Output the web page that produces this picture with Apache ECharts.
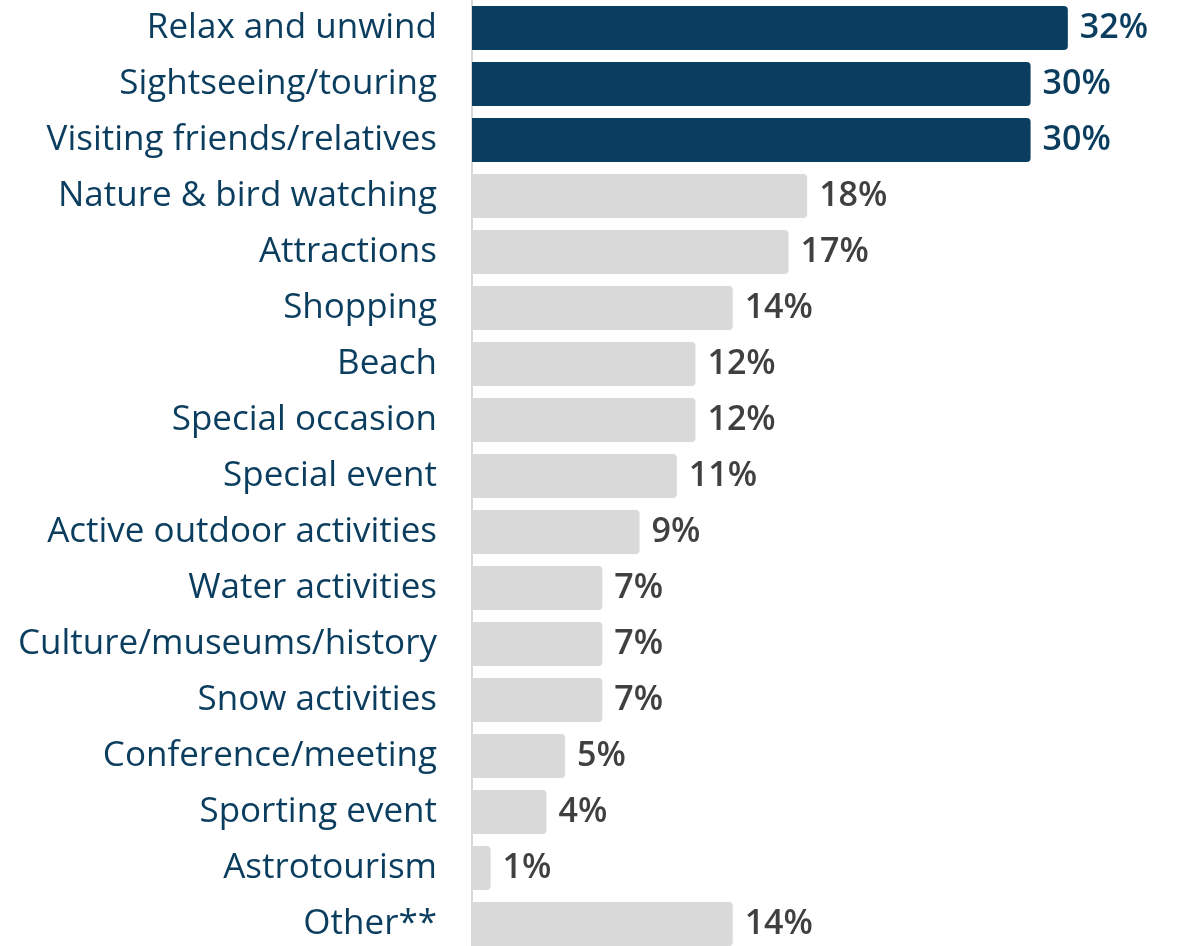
<!DOCTYPE html>
<html>
<head>
<meta charset="utf-8">
<script src="https://cdn.jsdelivr.net/npm/echarts@6/dist/echarts.min.js"></script>
<style>
  html, body { margin: 0; padding: 0; background: #ffffff; }
  #chart { width: 1177px; height: 946px; }
</style>
</head>
<body>
<div id="chart"></div>
<script>
// Trip activities, share of respondents (%)
const categories = [
  'Relax and unwind', 'Sightseeing/touring', 'Visiting friends/relatives',
  'Nature & bird watching', 'Attractions', 'Shopping', 'Beach',
  'Special occasion', 'Special event', 'Active outdoor activities',
  'Water activities', 'Culture/museums/history', 'Snow activities',
  'Conference/meeting', 'Sporting event', 'Astrotourism', 'Other**'
];
const values = [32, 30, 30, 18, 17, 14, 12, 12, 11, 9, 7, 7, 7, 5, 4, 1, 14];
// The leading three activities are highlighted
const highlightCount = 3;

const DARK = '#0b3d5f';
const GRAY = '#d9d9d9';
const LABEL_GRAY = '#404040';
const FONT = '"Open Sans", "Noto Sans", sans-serif';

const chart = echarts.init(document.getElementById('chart'), null, { renderer: 'canvas' });

const barData = values.map((v, i) => {
  const hi = i < highlightCount;
  return {
    value: v,
    itemStyle: { color: hi ? DARK : GRAY, borderRadius: [0, 4, 4, 0] },
    label: { color: hi ? DARK : LABEL_GRAY }
  };
});

chart.setOption({
  animation: false,
  backgroundColor: '#ffffff',
  grid: { left: 472, top: 0, width: 651.7, height: 952, outerBoundsMode: 'none', containLabel: false },
  xAxis: {
    type: 'value', min: 0, max: 35,
    show: false
  },
  yAxis: {
    type: 'category',
    inverse: true,
    data: categories,
    axisLine: { show: true, lineStyle: { color: GRAY, width: 2 } },
    axisTick: { show: false },
    axisLabel: {
      margin: 35,
      color: DARK,
      fontFamily: FONT,
      fontSize: 35
    }
  },
  series: [{
    type: 'bar',
    data: barData,
    barWidth: 44,
    label: {
      show: true,
      position: 'right',
      distance: 12,
      formatter: p => p.value + '%',
      fontFamily: FONT,
      fontSize: 34,
      fontWeight: 600
    }
  }]
});
</script>
</body>
</html>
